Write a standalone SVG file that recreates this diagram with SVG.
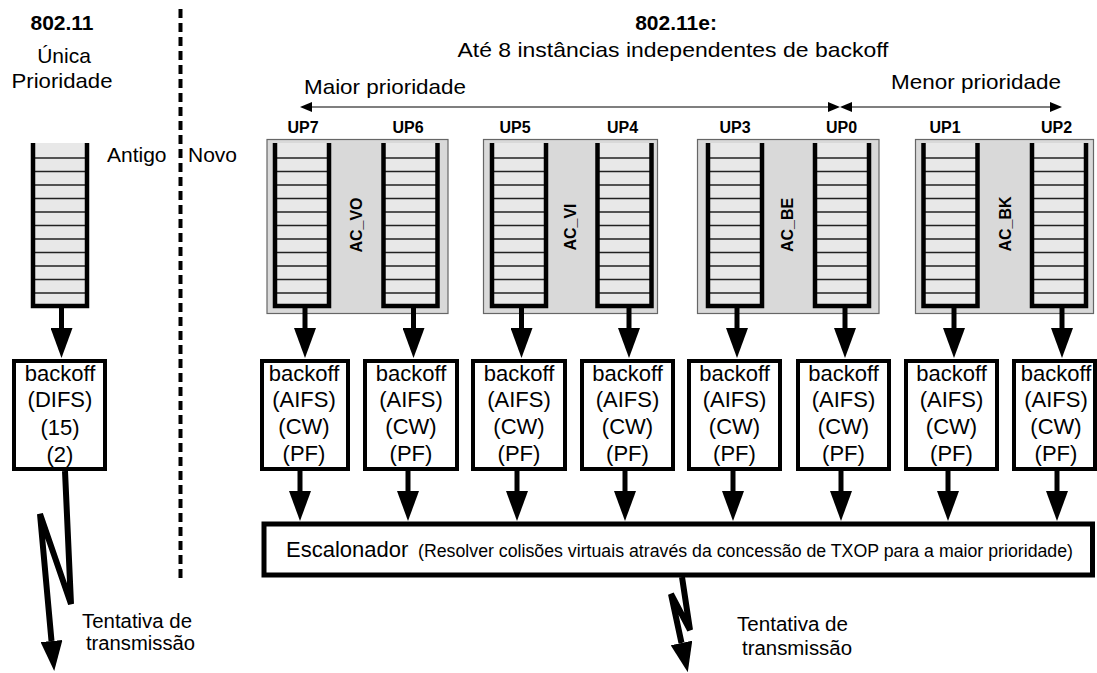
<svg xmlns="http://www.w3.org/2000/svg" xmlns:xlink="http://www.w3.org/1999/xlink" width="1097" height="673" viewBox="0 0 1097 673">
<style>
text{font-family:"Liberation Sans",Arial,sans-serif;fill:#000}
.t{font-size:21px}
.b{font-weight:bold}
.up{font-size:16px;font-weight:bold;text-anchor:middle}
.ac{font-size:16px;font-weight:bold;text-anchor:middle}
.bo{font-size:22px;text-anchor:middle}
.mid{text-anchor:middle}
.box{fill:#fff;stroke:#000;stroke-width:4}
.acbox{fill:#d9d9d9;stroke:#666;stroke-width:1.2}
.stem{stroke:#000;stroke-width:5;fill:none}
.bolt{stroke:#000;stroke-width:6;fill:none;stroke-linejoin:miter}
.prio{stroke:#555;stroke-width:1.5;fill:none}
</style>
<defs>
<marker id="ah" markerUnits="userSpaceOnUse" viewBox="0 0 30 22" markerWidth="30" markerHeight="22" refX="0" refY="11" orient="auto">
<path d="M0,0 L30,11 L0,22 z" fill="#000"/>
</marker>
<marker id="sh" markerUnits="userSpaceOnUse" viewBox="0 0 12 10" markerWidth="12" markerHeight="10" refX="0" refY="5" orient="auto-start-reverse">
<path d="M0,0 L12,5 L0,10 z" fill="#000"/>
</marker>
<g id="q">
<rect x="0" y="0" width="54" height="163" fill="#e8e8e8"/>
<g stroke="#222" stroke-width="1.4">
<line x1="0" y1="15" x2="54" y2="15"/>
<line x1="0" y1="28.5" x2="54" y2="28.5"/>
<line x1="0" y1="42" x2="54" y2="42"/>
<line x1="0" y1="55.5" x2="54" y2="55.5"/>
<line x1="0" y1="69" x2="54" y2="69"/>
<line x1="0" y1="82.5" x2="54" y2="82.5"/>
<line x1="0" y1="96" x2="54" y2="96"/>
<line x1="0" y1="109.5" x2="54" y2="109.5"/>
<line x1="0" y1="123" x2="54" y2="123"/>
<line x1="0" y1="136.5" x2="54" y2="136.5"/>
<line x1="0" y1="150" x2="54" y2="150"/>
</g>
<path d="M0,0 V163 H54 V0" fill="none" stroke="#000" stroke-width="4.5"/>
</g>
</defs>

<!-- headers -->
<g id="headers">
<text class="t b mid" x="62" y="30">802.11</text>
<text class="t mid" x="64" y="63">Única</text>
<text class="t mid" x="62" y="88" textLength="101" lengthAdjust="spacingAndGlyphs">Prioridade</text>
<text class="t" x="107" y="162">Antigo</text>
<text class="t" x="188" y="162">Novo</text>
<text class="t b mid" x="676" y="30">802.11e:</text>
<text class="t mid" x="673" y="57" textLength="431" lengthAdjust="spacingAndGlyphs">Até 8 instâncias independentes de backoff</text>
<text class="t" x="304" y="94" textLength="162" lengthAdjust="spacingAndGlyphs">Maior prioridade</text>
<text class="t" x="891" y="89" textLength="170" lengthAdjust="spacingAndGlyphs">Menor prioridade</text>
</g>

<line id="divider" x1="180.5" y1="9" x2="180.5" y2="578" stroke="#000" stroke-width="4" stroke-dasharray="9 5"/>

<!-- priority arrows -->
<g id="priority">
<line class="prio" x1="312" y1="107" x2="828" y2="107" marker-start="url(#sh)" marker-end="url(#sh)"/>
<line class="prio" x1="852" y1="107" x2="1050" y2="107" marker-start="url(#sh)" marker-end="url(#sh)"/>
</g>

<!-- access category groups -->
<g id="ac_vo">
<rect class="acbox" x="267" y="139.5" width="181" height="174"/>
<text class="ac" transform="translate(362,225) rotate(-90)">AC_VO</text>
</g>
<g id="ac_vi">
<rect class="acbox" x="483.5" y="139.5" width="174" height="174"/>
<text class="ac" transform="translate(576,227) rotate(-90)">AC_VI</text>
</g>
<g id="ac_be">
<rect class="acbox" x="697.5" y="139.5" width="181.5" height="174"/>
<text class="ac" transform="translate(793,225) rotate(-90)">AC_BE</text>
</g>
<g id="ac_bk">
<rect class="acbox" x="915.5" y="139.5" width="178" height="174"/>
<text class="ac" transform="translate(1011,224) rotate(-90)">AC_BK</text>
</g>

<!-- queues -->
<g id="queue_legacy"><use xlink:href="#q" x="33" y="143"/></g>
<g id="queue_up7"><use xlink:href="#q" x="275" y="143"/><text class="up" x="303" y="133">UP7</text></g>
<g id="queue_up6"><use xlink:href="#q" x="383.5" y="143"/><text class="up" x="408" y="133">UP6</text></g>
<g id="queue_up5"><use xlink:href="#q" x="492" y="143"/><text class="up" x="515" y="133">UP5</text></g>
<g id="queue_up4"><use xlink:href="#q" x="597.5" y="143"/><text class="up" x="622.5" y="133">UP4</text></g>
<g id="queue_up3"><use xlink:href="#q" x="708" y="143"/><text class="up" x="735" y="133">UP3</text></g>
<g id="queue_up0"><use xlink:href="#q" x="815" y="143"/><text class="up" x="841.5" y="133">UP0</text></g>
<g id="queue_up1"><use xlink:href="#q" x="923.5" y="143"/><text class="up" x="945" y="133">UP1</text></g>
<g id="queue_up2"><use xlink:href="#q" x="1032" y="143"/><text class="up" x="1056.5" y="133">UP2</text></g>

<!-- backoff boxes -->
<g id="backoff_legacy">
<rect class="box" x="14" y="361" width="91" height="108"/>
<text class="bo" x="60" y="381">backoff</text>
<text class="bo" x="60" y="407">(DIFS)</text>
<text class="bo" x="60" y="435">(15)</text>
<text class="bo" x="60" y="462">(2)</text>
</g>
<g id="backoff1">
<rect class="box" x="262" y="361" width="86" height="108"/>
<text class="bo" x="304" y="381">backoff</text><text class="bo" x="304" y="407">(AIFS)</text><text class="bo" x="304" y="434">(CW)</text><text class="bo" x="304" y="461">(PF)</text>
</g>
<g id="backoff2">
<rect class="box" x="365" y="361" width="92" height="108"/>
<text class="bo" x="411" y="381">backoff</text><text class="bo" x="411" y="407">(AIFS)</text><text class="bo" x="411" y="434">(CW)</text><text class="bo" x="411" y="461">(PF)</text>
</g>
<g id="backoff3">
<rect class="box" x="473" y="361" width="92" height="108"/>
<text class="bo" x="519" y="381">backoff</text><text class="bo" x="519" y="407">(AIFS)</text><text class="bo" x="519" y="434">(CW)</text><text class="bo" x="519" y="461">(PF)</text>
</g>
<g id="backoff4">
<rect class="box" x="582" y="361" width="91" height="108"/>
<text class="bo" x="627.5" y="381">backoff</text><text class="bo" x="627.5" y="407">(AIFS)</text><text class="bo" x="627.5" y="434">(CW)</text><text class="bo" x="627.5" y="461">(PF)</text>
</g>
<g id="backoff5">
<rect class="box" x="689" y="361" width="91" height="108"/>
<text class="bo" x="734.5" y="381">backoff</text><text class="bo" x="734.5" y="407">(AIFS)</text><text class="bo" x="734.5" y="434">(CW)</text><text class="bo" x="734.5" y="461">(PF)</text>
</g>
<g id="backoff6">
<rect class="box" x="798" y="361" width="91" height="108"/>
<text class="bo" x="843.5" y="381">backoff</text><text class="bo" x="843.5" y="407">(AIFS)</text><text class="bo" x="843.5" y="434">(CW)</text><text class="bo" x="843.5" y="461">(PF)</text>
</g>
<g id="backoff7">
<rect class="box" x="906" y="361" width="91" height="108"/>
<text class="bo" x="951.5" y="381">backoff</text><text class="bo" x="951.5" y="407">(AIFS)</text><text class="bo" x="951.5" y="434">(CW)</text><text class="bo" x="951.5" y="461">(PF)</text>
</g>
<g id="backoff8">
<rect class="box" x="1014" y="361" width="81" height="108"/>
<text class="bo" x="1056" y="381">backoff</text><text class="bo" x="1056" y="407">(AIFS)</text><text class="bo" x="1056" y="434">(CW)</text><text class="bo" x="1056" y="461">(PF)</text>
</g>

<!-- scheduler -->
<g id="escalonador">
<rect x="264" y="524" width="828.5" height="51" fill="#fff" stroke="#000" stroke-width="5"/>
<text x="286" y="557" style="font-size:22px">Escalonador</text>
<text x="418" y="557" style="font-size:17.5px" textLength="655" lengthAdjust="spacingAndGlyphs">(Resolver colisões virtuais através da concessão de TXOP para a maior prioridade)</text>
</g>

<!-- transmission labels -->
<g id="tx_labels">
<text x="82" y="628" style="font-size:19.5px" textLength="110" lengthAdjust="spacingAndGlyphs">Tentativa de</text>
<text x="86" y="650" style="font-size:19.5px" textLength="109" lengthAdjust="spacingAndGlyphs">transmissão</text>
<text x="737" y="631" style="font-size:19.5px" textLength="111" lengthAdjust="spacingAndGlyphs">Tentativa de</text>
<text x="742" y="655" style="font-size:19.5px" textLength="110" lengthAdjust="spacingAndGlyphs">transmissão</text>
</g>

<!-- connectors -->
<g id="connectors">
<line class="stem" x1="61.5" y1="306" x2="61.5" y2="328" marker-end="url(#ah)"/>
<line class="stem" x1="305" y1="306" x2="305" y2="328" marker-end="url(#ah)"/>
<line class="stem" x1="413.5" y1="306" x2="413.5" y2="328" marker-end="url(#ah)"/>
<line class="stem" x1="521.5" y1="306" x2="521.5" y2="328" marker-end="url(#ah)"/>
<line class="stem" x1="629" y1="306" x2="629" y2="328" marker-end="url(#ah)"/>
<line class="stem" x1="737" y1="306" x2="737" y2="328" marker-end="url(#ah)"/>
<line class="stem" x1="845" y1="306" x2="845" y2="328" marker-end="url(#ah)"/>
<line class="stem" x1="954" y1="306" x2="954" y2="328" marker-end="url(#ah)"/>
<line class="stem" x1="1062" y1="306" x2="1062" y2="328" marker-end="url(#ah)"/>

<line class="stem" x1="300" y1="470" x2="300" y2="491" marker-end="url(#ah)"/>
<line class="stem" x1="408" y1="470" x2="408" y2="491" marker-end="url(#ah)"/>
<line class="stem" x1="517" y1="470" x2="517" y2="491" marker-end="url(#ah)"/>
<line class="stem" x1="625" y1="470" x2="625" y2="491" marker-end="url(#ah)"/>
<line class="stem" x1="733" y1="470" x2="733" y2="491" marker-end="url(#ah)"/>
<line class="stem" x1="841" y1="470" x2="841" y2="491" marker-end="url(#ah)"/>
<line class="stem" x1="948" y1="470" x2="948" y2="491" marker-end="url(#ah)"/>
<line class="stem" x1="1057" y1="470" x2="1057" y2="491" marker-end="url(#ah)"/>

<polyline class="bolt" points="65,471 71,604 40,514 51.5,641" marker-end="url(#ah)"/>
<polyline class="bolt" points="682,577 690,630 671,594 681.5,643" marker-end="url(#ah)"/>
</g>
</svg>
